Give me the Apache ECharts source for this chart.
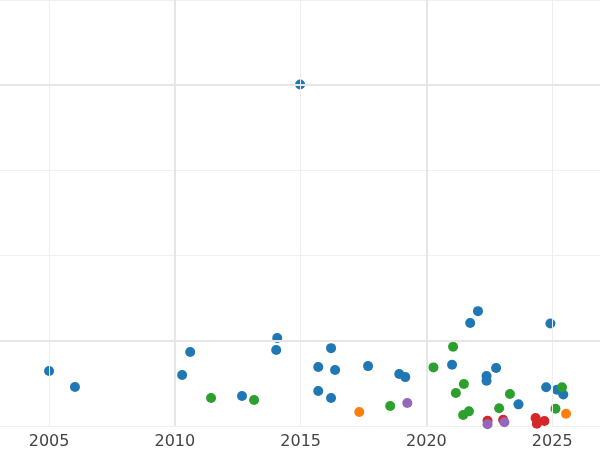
<!DOCTYPE html>
<html><head><meta charset="utf-8">
<script src="https://cdn.jsdelivr.net/npm/echarts@6/dist/echarts.min.js"></script>
<style>html,body{margin:0;padding:0;background:#fff}#myChart{width:600px;height:450px}</style>
</head><body><div id="myChart"></div>
<script>
// point groups: [year, value]
var blueData = [[2005.0,0.645],[2006.03,0.457],[2010.29,0.598],[2010.61,0.868],[2012.67,0.352],[2014.07,1.032],[2014.03,0.891],[2014.98,4.009],[2015.70,0.692],[2015.70,0.41],[2016.21,0.914],[2016.37,0.657],[2016.21,0.328],[2017.68,0.703],[2018.92,0.61],[2019.16,0.574],[2022.05,1.348],[2021.74,1.208],[2024.93,1.204],[2021.02,0.719],[2022.77,0.68],[2022.39,0.586],[2022.39,0.531],[2024.76,0.454],[2025.19,0.426],[2025.44,0.37],[2023.66,0.254]];
var greenData = [[2011.44,0.328],[2013.15,0.305],[2018.56,0.234],[2021.06,0.93],[2020.28,0.688],[2021.49,0.492],[2021.17,0.387],[2023.32,0.375],[2025.39,0.454],[2022.89,0.208],[2025.13,0.203],[2021.69,0.172],[2021.46,0.129]];
var orangeData = [[2017.33,0.164],[2025.55,0.144]];
var redData = [[2022.43,0.062],[2023.05,0.074],[2024.34,0.094],[2024.69,0.059],[2024.39,0.027]];
var purpleData = [[2019.24,0.27],[2022.43,0.02],[2023.1,0.043]];
var xTicks = [2005, 2010, 2015, 2020, 2025];
var majorX = [2010, 2020];
var majorY = [1, 4];

var myChart = echarts.init(document.getElementById('myChart'));
function sc(name, color, data){
    return {name: name, type: 'scatter', data: data, symbolSize: 10,
        itemStyle: {color: color, opacity: 1}, clip: true, z: 3};
}
// minor vertical lines + thicker major lines
var minorGuides = {type: 'scatter', data: [], silent: true,
    markLine: {symbol: 'none', silent: true, label: {show: false},
        lineStyle: {color: '#eeeeee', width: 1, type: 'solid'},
        data: xTicks.map(function(v){ return {xAxis: v}; })}};
var majorGuides = {type: 'scatter', data: [], silent: true,
    markLine: {symbol: 'none', silent: true, label: {show: false},
        lineStyle: {color: '#e6e6e6', width: 2, type: 'solid'},
        data: majorX.map(function(v){ return {xAxis: v}; })
            .concat(majorY.map(function(v){ return {yAxis: v}; }))}};
var option = {
    animation: false,
    grid: {left: 0, right: 0, top: 0, bottom: 23},
    xAxis: {type: 'value', min: 2003.05, max: 2026.9,
        axisLine: {show: false}, axisTick: {show: false},
        splitLine: {show: false},
        axisLabel: {color: '#444', fontSize: 16, fontFamily: 'DejaVu Sans', margin: 8,
            customValues: xTicks,
            formatter: function(v){ return String(v); }}},
    yAxis: {type: 'value', min: 0, max: 5, interval: 1,
        axisLine: {show: false}, axisTick: {show: false}, axisLabel: {show: false},
        splitLine: {show: true, lineStyle: {color: '#f0f0f0', width: 1}}},
    series: [minorGuides, majorGuides,
        sc('blue', '#1f77b4', blueData),
        sc('green', '#2ca02c', greenData),
        sc('orange', '#ff7f0e', orangeData),
        sc('red', '#d62728', redData),
        sc('purple', '#9467bd', purpleData)]
};
myChart.setOption(option);
</script></body></html>
